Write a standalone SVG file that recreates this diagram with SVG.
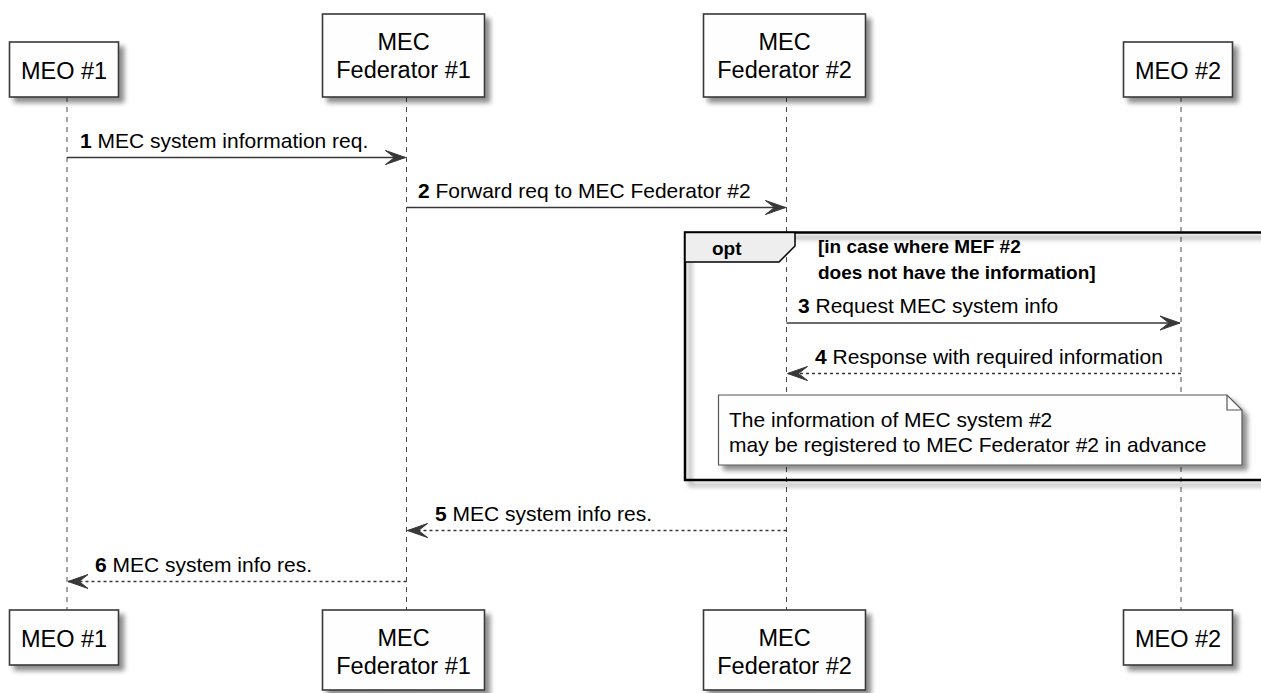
<svg xmlns="http://www.w3.org/2000/svg" width="1261" height="693" viewBox="0 0 1261 693">
<defs>
<filter id="sh" x="-10%" y="-10%" width="130%" height="150%">
<feGaussianBlur in="SourceAlpha" stdDeviation="2.5"/>
<feOffset dx="5" dy="5" result="o"/>
<feComponentTransfer><feFuncA type="linear" slope="0.45"/></feComponentTransfer>
<feMerge><feMergeNode/><feMergeNode in="SourceGraphic"/></feMerge>
</filter>
<marker id="ah" viewBox="0 0 22 16" refX="21" refY="8" markerWidth="22" markerHeight="16" markerUnits="userSpaceOnUse" orient="auto">
<path d="M21,8 L1,1 L10,8 L1,15 Z" fill="#383838" stroke="#383838" stroke-width="1" stroke-linejoin="round"/>
</marker>
<style>
.box{fill:#FEFEFE;stroke:#383838;stroke-width:1.6}
.pt{font-family:"Liberation Sans",Arial,sans-serif;font-size:23.5px;fill:#000;text-anchor:middle}
.life{stroke:#4a4a4a;stroke-width:1;stroke-dasharray:5,5;fill:none}
.msg{stroke:#383838;stroke-width:1.5;fill:none;marker-end:url(#ah)}
.ret{stroke-dasharray:3,3}
.mt{font-family:"Liberation Sans",Arial,sans-serif;font-size:21px;fill:#000}
.mt tspan.n{font-weight:bold}
.bold{font-family:"Liberation Sans",Arial,sans-serif;font-size:19px;font-weight:bold;fill:#000}
.note{fill:#FEFEFE;stroke:#555;stroke-width:1.2}
</style>
</defs>
<rect width="1261" height="693" fill="#FFFFFF"/>

<g id="lifelines">
<line class="life" x1="67" y1="97" x2="67" y2="610"/>
<line class="life" x1="406.5" y1="97" x2="406.5" y2="610"/>
<line class="life" x1="786.5" y1="97" x2="786.5" y2="610"/>
<line class="life" x1="1181" y1="97" x2="1181" y2="610"/>
</g>

<g id="opt-frame">
<rect x="685" y="232.5" width="600" height="247.5" fill="none" stroke="#000" stroke-width="2.5" filter="url(#sh)"/>
<path d="M685,232.5 L795,232.5 L795,246 L779,262 L685,262 Z" fill="#EEEEEE" stroke="#000" stroke-width="1.5"/>
<text class="bold" x="712" y="255">opt</text>
<text class="bold" x="818" y="253">[in case where MEF #2</text>
<text class="bold" x="818" y="279">does not have the information]</text>
</g>

<g id="MEO1">
<rect class="box" x="9.5" y="42" width="109" height="55" filter="url(#sh)"/>
<text class="pt" x="64" y="78.5">MEO #1</text>
</g>
<g id="FED1">
<rect class="box" x="322.5" y="14" width="162" height="83" filter="url(#sh)"/>
<text class="pt" x="403.5" y="50">MEC</text>
<text class="pt" x="403.5" y="78">Federator #1</text>
</g>
<g id="FED2">
<rect class="box" x="703.5" y="14" width="162" height="83" filter="url(#sh)"/>
<text class="pt" x="784.5" y="50">MEC</text>
<text class="pt" x="784.5" y="78">Federator #2</text>
</g>
<g id="MEO2">
<rect class="box" x="1123.5" y="42" width="109" height="55" filter="url(#sh)"/>
<text class="pt" x="1178" y="78.5">MEO #2</text>
</g>

<g id="MEO1-bottom">
<rect class="box" x="9.5" y="610" width="109" height="55" filter="url(#sh)"/>
<text class="pt" x="64" y="646.5">MEO #1</text>
</g>
<g id="FED1-bottom">
<rect class="box" x="322.5" y="610" width="162" height="80" filter="url(#sh)"/>
<text class="pt" x="403.5" y="646">MEC</text>
<text class="pt" x="403.5" y="674">Federator #1</text>
</g>
<g id="FED2-bottom">
<rect class="box" x="703.5" y="610" width="162" height="80" filter="url(#sh)"/>
<text class="pt" x="784.5" y="646">MEC</text>
<text class="pt" x="784.5" y="674">Federator #2</text>
</g>
<g id="MEO2-bottom">
<rect class="box" x="1123.5" y="610" width="109" height="55" filter="url(#sh)"/>
<text class="pt" x="1178" y="646.5">MEO #2</text>
</g>

<g id="note">
<path class="note" d="M718.5,395 L1227,395 L1242,410 L1242,465 L718.5,465 Z" filter="url(#sh)"/>
<path d="M1227,395 L1227,410 L1242,410" fill="none" stroke="#555" stroke-width="1.2"/>
<text class="mt" x="729" y="427">The information of MEC system #2</text>
<text class="mt" x="729" y="452">may be registered to MEC Federator #2 in advance</text>
</g>

<g id="connectors">
<line class="msg" x1="67" y1="157.5" x2="405.5" y2="157.5"/>
<text class="mt" x="80" y="148"><tspan class="n">1</tspan> MEC system information req.</text>
<line class="msg" x1="406.5" y1="207.5" x2="785.5" y2="207.5"/>
<text class="mt" x="418" y="198"><tspan class="n">2</tspan> Forward req to MEC Federator #2</text>
<line class="msg" x1="786.5" y1="323" x2="1180" y2="323"/>
<text class="mt" x="798" y="313"><tspan class="n">3</tspan> Request MEC system info</text>
<line class="msg ret" x1="1181" y1="373.5" x2="787.5" y2="373.5"/>
<text class="mt" x="815" y="364"><tspan class="n">4</tspan> Response with required information</text>
<line class="msg ret" x1="786.5" y1="530.5" x2="407.5" y2="530.5"/>
<text class="mt" x="435" y="521"><tspan class="n">5</tspan> MEC system info res.</text>
<line class="msg ret" x1="406.5" y1="581.5" x2="68" y2="581.5"/>
<text class="mt" x="95" y="572"><tspan class="n">6</tspan> MEC system info res.</text>
</g>
</svg>
